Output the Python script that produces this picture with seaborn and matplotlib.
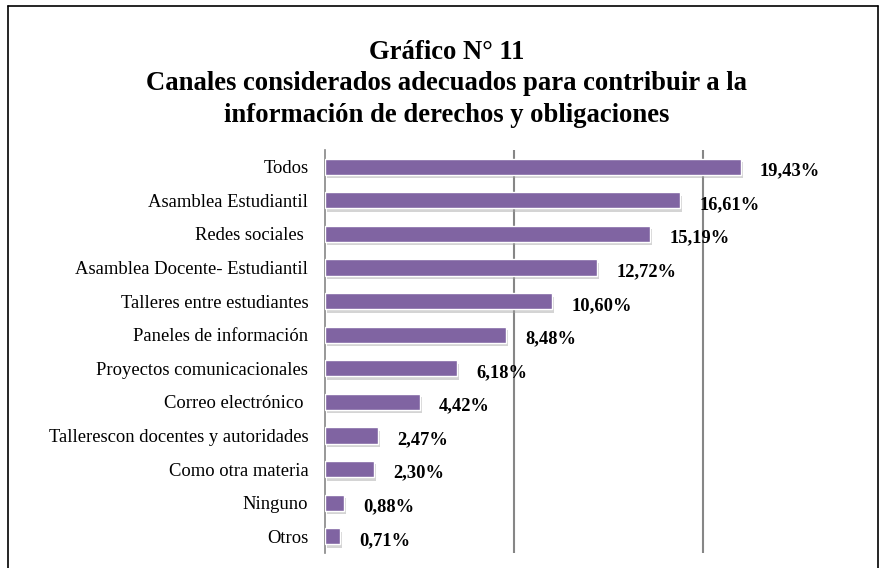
import matplotlib
matplotlib.use("Agg")
import matplotlib.pyplot as plt
import matplotlib.patheffects as pe
from matplotlib.lines import Line2D
import seaborn as sns
import pandas as pd

categorias = ["Todos", "Asamblea Estudiantil", "Redes sociales ",
              "Asamblea Docente- Estudiantil", "Talleres entre estudiantes",
              "Paneles de información", "Proyectos comunicacionales",
              "Correo electrónico ", "Tallerescon docentes y autoridades",
              "Como otra materia", "Ninguno", "Otros"]
porcentajes = [19.43, 16.61, 15.19, 12.72, 10.60, 8.48, 6.18, 4.42, 2.47, 2.30, 0.88, 0.71]
etiquetas = ["19,43%", "16,61%", "15,19%", "12,72%", "10,60%", "8,48%",
             "6,18%", "4,42%", "2,47%", "2,30%", "0,88%", "0,71%"]
lineas_guia = [8.83, 17.67]

df = pd.DataFrame({"canal": categorias, "pct": porcentajes})

sns.set_style("white")
plt.rcParams["font.family"] = ["Liberation Serif", "DejaVu Serif"]
plt.rcParams["text.color"] = "black"
plt.rcParams["ytick.color"] = "black"

fig = plt.figure(figsize=(8.81, 5.68), dpi=100)
ax = fig.add_axes([325 / 881, 1 - 553 / 568, 1 - 325 / 881, (553 - 150) / 568])

sns.barplot(data=df, x="pct", y="canal", orient="h", color="#8064A2",
            saturation=1, width=0.48, ax=ax, zorder=3)

for p in ax.patches:
    p.set_path_effects([pe.SimplePatchShadow(offset=(1.5, -2.5), shadow_rgbFace="#a0a0a0", alpha=0.45),
                        pe.Normal()])

for i, (v, t) in enumerate(zip(porcentajes, etiquetas)):
    ax.annotate(t, (v, i), xytext=(14, -3), textcoords="offset points",
                ha="left", va="center", fontsize=13.3, fontweight="bold", zorder=5)

ax.set_xlim(0, 26)
ax.set_ylim(11.5, -0.5)
ax.set_xticks(lineas_guia)
ax.set_xticklabels([])
ax.tick_params(axis="x", length=0)
ax.grid(axis="x", color="#868686", linewidth=1.5, zorder=0)
ax.set_axisbelow(True)

ax.set_yticks(range(len(categorias)))
ax.set_yticklabels(categorias, fontsize=13.4)
ax.set_yticks([i - 0.5 for i in range(len(categorias) + 1)], minor=True)
ax.tick_params(axis="y", which="major", length=0, pad=12, labelcolor="black")
ax.tick_params(axis="y", which="minor", length=5, width=1, color="#868686", direction="out")
ax.set_xlabel("")
ax.set_ylabel("")

for s in ["top", "right", "bottom"]:
    ax.spines[s].set_visible(False)
ax.spines["left"].set_color("#868686")
ax.spines["left"].set_linewidth(1.2)

fig.text(0.507, 1 - 84 / 568, "Gráfico N° 11\nCanales considerados adecuados para contribuir a la\n"
         "información de derechos y obligaciones", ha="center", va="center",
         fontsize=19.2, fontweight="bold", linespacing=1.36, color="black")

# marco de la figura
fig.add_artist(Line2D([8 / 881, 8 / 881], [0, 1 - 6 / 568], color="black", lw=1.2))
fig.add_artist(Line2D([8 / 881, 878 / 881], [1 - 6 / 568, 1 - 6 / 568], color="black", lw=1.2))
fig.add_artist(Line2D([878 / 881, 878 / 881], [0, 1 - 6 / 568], color="black", lw=1.2))

fig.savefig("out.png", dpi=100)
